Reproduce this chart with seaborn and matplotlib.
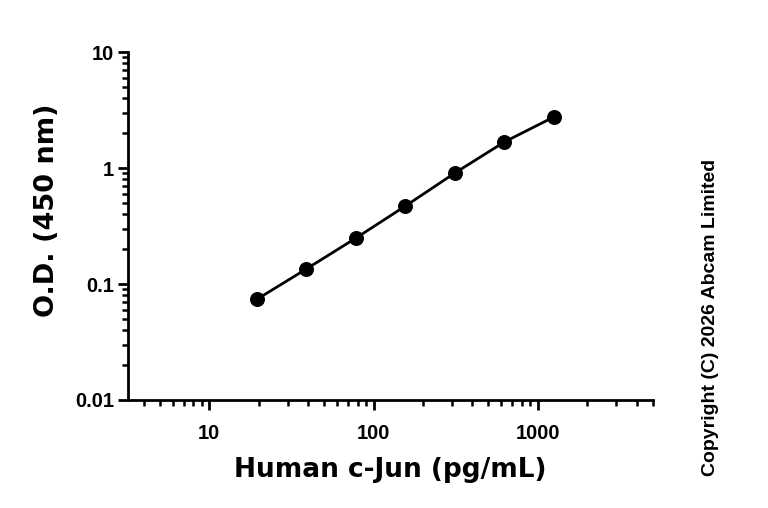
import numpy as np
import pandas as pd
import matplotlib
matplotlib.use("Agg")
import matplotlib.pyplot as plt
import matplotlib.ticker as mticker
import seaborn as sns

# Standard curve data
concentration = [19.53, 39.06, 78.13, 156.25, 312.5, 625, 1250]
od_450 = [0.074, 0.135, 0.249, 0.470, 0.905, 1.675, 2.75]

x_ticks = [10, 100, 1000]
x_tick_labels = ["10", "100", "1000"]
y_ticks = [0.01, 0.1, 1, 10]
y_tick_labels = ["0.01", "0.1", "1", "10"]

df = pd.DataFrame({"conc": concentration, "od": od_450})

sns.set_style("ticks")
plt.rcParams['font.family'] = ['Liberation Sans', 'DejaVu Sans']
plt.rcParams['text.color'] = 'black'
plt.rcParams['axes.labelcolor'] = 'black'
plt.rcParams['xtick.color'] = 'black'
plt.rcParams['ytick.color'] = 'black'

fig = plt.figure(figsize=(7.68, 5.08), dpi=100)
ax = fig.add_axes([0.1667, 0.2126, 0.683, 0.685])

sns.lineplot(data=df, x="conc", y="od", ax=ax, color="black", linewidth=2.0,
             marker="o", markersize=10, markeredgecolor="black", markerfacecolor="black")

ax.set_xscale("log")
ax.set_yscale("log")
ax.set_xlim(3.2, 5000)
ax.set_ylim(0.01, 10)

ax.xaxis.set_major_locator(mticker.FixedLocator(x_ticks))
ax.xaxis.set_major_formatter(mticker.FixedFormatter(x_tick_labels))
ax.xaxis.set_minor_locator(mticker.LogLocator(base=10, subs=np.arange(2, 10), numticks=20))
ax.xaxis.set_minor_formatter(mticker.NullFormatter())
ax.yaxis.set_major_locator(mticker.FixedLocator(y_ticks))
ax.yaxis.set_major_formatter(mticker.FixedFormatter(y_tick_labels))
ax.yaxis.set_minor_locator(mticker.LogLocator(base=10, subs=np.arange(2, 10), numticks=20))
ax.yaxis.set_minor_formatter(mticker.NullFormatter())

for side in ["top", "right"]:
    ax.spines[side].set_visible(False)
for side in ["left", "bottom"]:
    ax.spines[side].set_linewidth(2.0)
    ax.spines[side].set_color("black")

ax.tick_params(which="major", length=7, width=2.0, colors="black", labelsize=14.5, pad=3)
ax.tick_params(which="minor", length=4, width=1.8, colors="black")
ax.tick_params(axis="x", which="major", pad=10)
for lab in ax.get_xticklabels() + ax.get_yticklabels():
    lab.set_fontweight("bold")

ax.set_xlabel("Human c-Jun (pg/mL)", fontsize=19, fontweight="bold",
              family=["DejaVu Sans"], color="black")
ax.set_ylabel("O.D. (450 nm)", fontsize=19.5, fontweight="bold",
              family=["DejaVu Sans"], color="black")
ax.xaxis.set_label_coords(0.5, -0.165)
ax.yaxis.set_label_coords(-0.13, 0.545)

fig.text(0.925, 0.375, "Copyright (C) 2026 Abcam Limited", rotation=90,
         fontsize=14, fontweight="bold", ha="center", va="center", color="black")

fig.savefig("out.png", dpi=100)
